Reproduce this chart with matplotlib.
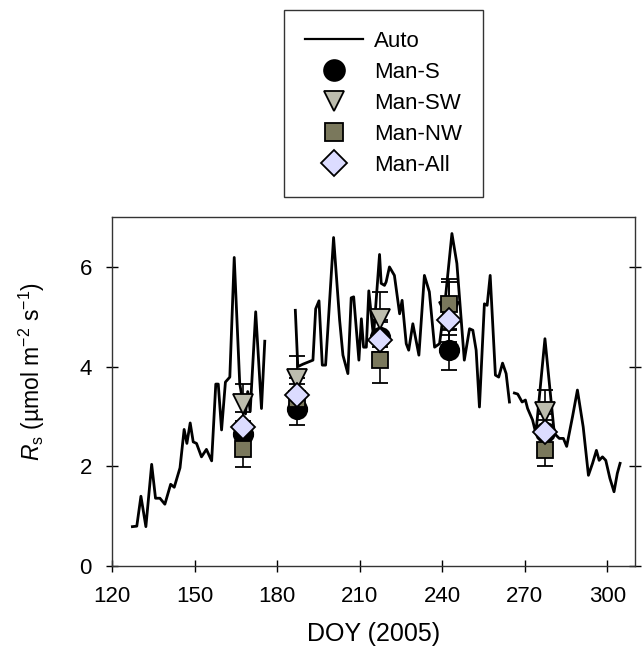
import numpy as np
import matplotlib
matplotlib.use('Agg')
import matplotlib.pyplot as plt
from matplotlib.lines import Line2D

plt.rcParams['font.family'] = ['Liberation Sans', 'DejaVu Sans']
plt.rcParams['mathtext.fontset'] = 'custom'
plt.rcParams['mathtext.rm'] = 'Liberation Sans'
plt.rcParams['mathtext.it'] = 'Liberation Sans:italic'

# automated chamber series (NaN = gaps in the record)
auto_doy = [127.4, 129.0, 130.5, 132.3, 134.4, 135.8, 137.4, 139.2, 141.3, 142.6,
            144.7, 146.2, 147.2, 148.4, 149.5, 150.7, 152.5, 154.3, 156.2, 157.7,
            158.6, 159.8, 161.2, 162.8, 164.4, 166.4, 167.5, 168.5, 169.3, 170.2,
            172.2, 174.3, 175.5, 181.0,
            186.6, 187.5, 189.4, 191.2, 193.0, 194.0, 195.2, 196.4, 197.6, 200.5,
            202.7, 203.9, 205.7, 206.9, 207.8, 209.7, 210.6, 211.4, 212.4, 213.3,
            215.0, 217.2, 217.8, 219.0, 219.6, 220.8, 222.6, 224.5, 225.4, 226.9,
            227.8, 229.3, 231.5, 233.5, 235.3, 237.2, 239.0, 241.0, 243.5, 245.3,
            248.0, 249.9, 251.1, 252.3, 253.5, 255.3, 256.3, 257.4, 259.3, 260.5,
            261.9, 263.2, 264.4, 265.3,
            266.2, 267.4, 269.0, 270.2, 271.0, 272.8, 274.0, 277.3, 280.7, 282.5,
            284.0, 285.2, 287.3, 289.1, 291.2, 293.1, 294.6, 296.0, 297.0, 298.2,
            299.4, 300.9, 302.4, 303.6, 304.6]
auto_rs = [0.79, 0.80, 1.40, 0.79, 2.04, 1.36, 1.36, 1.24, 1.64, 1.58,
           1.97, 2.74, 2.46, 2.87, 2.49, 2.46, 2.19, 2.34, 2.11, 3.65,
           3.65, 2.73, 3.69, 3.79, 6.19, 3.66, 3.30, 3.05, 3.50, 3.10,
           5.10, 3.16, 4.51, np.nan,
           5.13, 4.00, 4.05, 4.09, 4.13, 5.16, 5.32, 4.03, 4.03, 6.59,
           4.93, 4.23, 3.86, 5.38, 5.40, 4.13, 4.96, 4.39, 4.39, 5.52,
           4.60, 6.25, 5.67, 5.63, 5.70, 6.00, 5.83, 5.06, 5.33, 4.46,
           4.33, 4.86, 4.23, 5.83, 5.50, 4.39, 4.46, 5.30, 6.67, 6.07,
           4.13, 4.76, 4.73, 4.33, 3.19, 5.26, 5.23, 5.83, 3.83, 3.79,
           4.07, 3.86, 3.29, np.nan,
           3.47, 3.45, 3.29, 3.33, 3.16, 2.93, 2.66, 4.56, 2.66, 2.56,
           2.56, 2.40, 2.99, 3.53, 2.79, 1.82, 2.06, 2.32, 2.12, 2.19,
           2.12, 1.76, 1.49, 1.86, 2.06]

# manual survey campaigns
man_doy = [167.5, 187.2, 217.2, 242.3, 277.3]
man_s = [2.65, 3.14, 4.60, 4.33, 2.68]
man_s_err = [0.25, 0.31, 0.30, 0.40, 0.25]
man_sw = [3.26, 3.76, 4.95, 5.10, 3.09]
man_sw_err = [0.40, 0.45, 0.55, 0.60, 0.45]
man_nw = [2.34, 3.35, 4.14, 5.26, 2.32]
man_nw_err = [0.36, 0.30, 0.47, 0.50, 0.32]
man_all = [2.78, 3.43, 4.54, 4.93, 2.69]
man_all_err = [0.30, 0.35, 0.40, 0.30, 0.35]

styles = [
    ('Man-S', man_s, man_s_err, 'o', 14, 'black'),
    ('Man-SW', man_sw, man_sw_err, 'v', 14, '#bdbdae'),
    ('Man-NW', man_nw, man_nw_err, 's', 12, '#7a785c'),
    ('Man-All', man_all, man_all_err, 'D', 12, '#dcdcff'),
]

fig = plt.figure(figsize=(6.42, 6.48), dpi=100)
ax = fig.add_axes([0.1745, 0.1265, 0.8145, 0.5385])

ax.plot(auto_doy, auto_rs, color='black', lw=2, zorder=2)
handles = [Line2D([], [], color='black', lw=1.6)]
labels = ['Auto']

for name, vals, err, mk, ms, fc in styles:
    ax.errorbar(man_doy, vals, yerr=err, fmt=mk, ms=ms, markerfacecolor=fc,
                markeredgecolor='black', markeredgewidth=1.3, ecolor='black',
                elinewidth=1.2, capsize=6, capthick=1.2, zorder=3)
    handles.append(Line2D([], [], ls='none', marker=mk, ms=ms + 1, markerfacecolor=fc,
                          markeredgecolor='black', markeredgewidth=1.3))
    labels.append(name)

ax.set_xlim(120, 310)
ax.set_ylim(0, 7)
ax.set_xticks([120, 150, 180, 210, 240, 270, 300])
ax.set_yticks([0, 2, 4, 6])
ax.tick_params(axis='both', direction='inout', length=9, width=1, labelsize=16)
ax.tick_params(axis='x', pad=10)
ax.tick_params(axis='y', right=True, pad=10)
for s in ax.spines.values():
    s.set_linewidth(1)
    s.set_color('#333333')

ax.set_xlabel('DOY (2005)', fontsize=18, labelpad=11)
ax.set_ylabel(r'$\mathit{R}_\mathrm{s}$ (µmol m$^{-2}$ s$^{-1}$)', fontsize=16.5)
ax.yaxis.set_label_coords(-0.125, 0.556)

leg = fig.legend(handles, labels, loc='upper center', bbox_to_anchor=(0.597, 0.985),
                 fontsize=16, frameon=True, fancybox=False, edgecolor='black',
                 handlelength=2.6, handletextpad=0.5, labelspacing=0.45,
                 borderpad=0.95, borderaxespad=0)
leg.get_frame().set_linewidth(1)

fig.savefig('out.png', dpi=100)
print('Done: out.png')
